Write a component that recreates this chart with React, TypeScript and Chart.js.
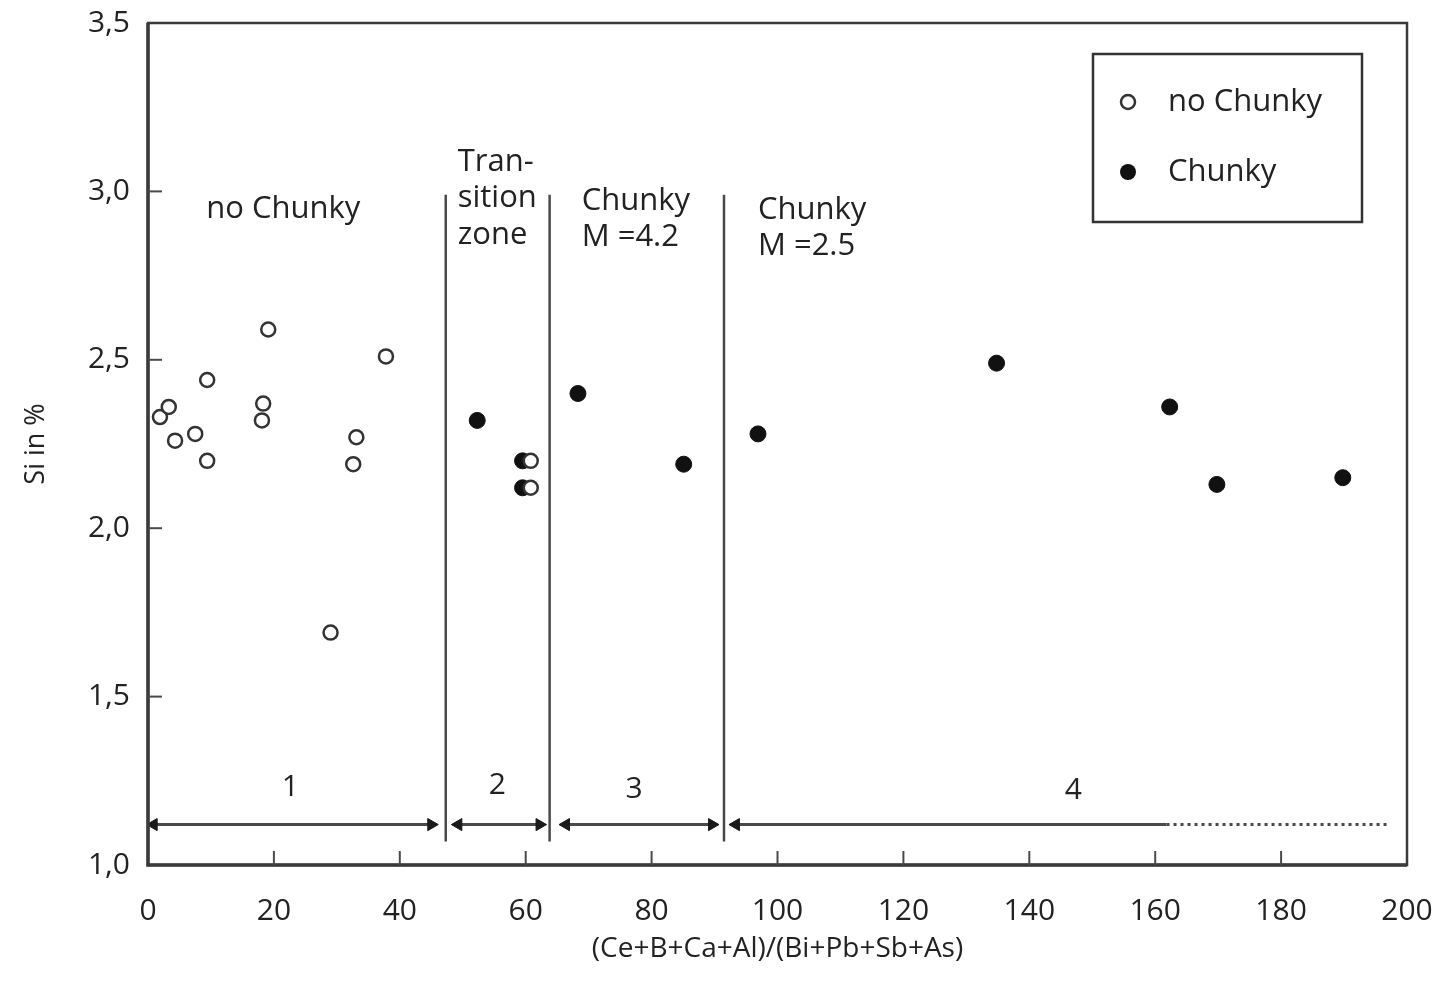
import { useEffect, useRef } from "react"
import { Chart, registerables } from "chart.js"

Chart.register(...registerables)

// values
const noChunkyX = [1.9, 3.3, 4.3, 7.5, 9.4, 9.4, 18.1, 18.3, 19.1, 29.0, 32.6, 33.1, 37.8, 60.8, 60.8]
const noChunkyY = [2.33, 2.36, 2.26, 2.28, 2.44, 2.2, 2.32, 2.37, 2.59, 1.69, 2.19, 2.27, 2.51, 2.2, 2.12]

const chunkyX = [52.3, 59.5, 59.5, 68.3, 85.1, 96.9, 134.8, 162.3, 169.8, 189.8]
const chunkyY = [2.32, 2.2, 2.12, 2.4, 2.19, 2.28, 2.49, 2.36, 2.13, 2.15]

const xTickValues = [0, 20, 40, 60, 80, 100, 120, 140, 160, 180, 200]
const yTickValues = [1.0, 1.5, 2.0, 2.5, 3.0, 3.5]

// zone borders (x) and their vertical extent (y)
const zoneBorders = [47.3, 63.8, 91.5]
const zoneBorderTop = 2.99
const zoneBorderBottom = 1.07

// arrows under the zones: [from, to]
const arrowY = 1.12
const zoneArrows = [
  [0.9, 45.0],
  [49.3, 62.2],
  [66.4, 89.6],
]
const zone4Solid = [93.4, 161.8]
const zone4Dotted = [161.8, 196.8]

const zoneNumbers = ["1", "2", "3", "4"]
const zoneNumberX = [22.6, 55.5, 77.2, 147.0]
const zoneNumberY = [1.23, 1.235, 1.223, 1.22]

const zoneTitles = [
  { lines: ["no Chunky"], x: 21.5, y: 2.948, align: "center" },
  { lines: ["Tran-", "sition", "zone"], x: 49.2, y: 3.087, align: "left" },
  { lines: ["Chunky", "M =4.2"], x: 68.9, y: 2.971, align: "left" },
  { lines: ["Chunky", "M =2.5"], x: 96.9, y: 2.945, align: "left" },
]

const legendLabels = ["no Chunky", "Chunky"]

const ink = "#222222"
const lineGray = "#4a4a4a"
const font = "'Open Sans', 'DejaVu Sans', sans-serif"

const toPoints = (xs: number[], ys: number[]) => xs.map((x, i) => ({ x, y: ys[i] }))

const overlayPlugin = {
  id: "overlay",
  afterDraw(chart: Chart) {
    const { ctx, chartArea } = chart
    const xs = chart.scales.x
    const ys = chart.scales.y
    ctx.save()

    // frame
    ctx.strokeStyle = "#3a3a3a"
    ctx.lineWidth = 2.5
    ctx.strokeRect(chartArea.left, chartArea.top, chartArea.right - chartArea.left, chartArea.bottom - chartArea.top)
    ctx.lineWidth = 3.5
    ctx.beginPath()
    ctx.moveTo(chartArea.left, chartArea.top)
    ctx.lineTo(chartArea.left, chartArea.bottom)
    ctx.lineTo(chartArea.right, chartArea.bottom)
    ctx.stroke()

    // inner tick marks
    ctx.lineWidth = 2
    ctx.strokeStyle = lineGray
    xTickValues.slice(1, -1).forEach((v) => {
      const px = xs.getPixelForValue(v)
      ctx.beginPath()
      ctx.moveTo(px, chartArea.bottom)
      ctx.lineTo(px, chartArea.bottom - 14)
      ctx.stroke()
    })
    yTickValues.slice(1, -1).forEach((v) => {
      const py = ys.getPixelForValue(v)
      ctx.beginPath()
      ctx.moveTo(chartArea.left, py)
      ctx.lineTo(chartArea.left + 14, py)
      ctx.stroke()
    })

    // zone titles
    ctx.fillStyle = ink
    ctx.font = `31px ${font}`
    ctx.textBaseline = "middle"
    zoneTitles.forEach((t) => {
      ctx.textAlign = t.align as CanvasTextAlign
      const px = xs.getPixelForValue(t.x)
      const py = ys.getPixelForValue(t.y)
      t.lines.forEach((line, i) => ctx.fillText(line, px, py + i * 36.5))
    })

    // zone numbers
    ctx.font = `30px ${font}`
    ctx.textAlign = "center"
    zoneNumbers.forEach((n, i) => {
      ctx.fillText(n, xs.getPixelForValue(zoneNumberX[i]), ys.getPixelForValue(zoneNumberY[i]))
    })

    // legend box
    const boxW = 269
    const boxH = 168
    const boxX = chartArea.right - 45 - boxW
    const boxY = chartArea.top + 31
    ctx.fillStyle = "#ffffff"
    ctx.fillRect(boxX, boxY, boxW, boxH)
    ctx.strokeStyle = "#333333"
    ctx.lineWidth = 2.5
    ctx.strokeRect(boxX, boxY, boxW, boxH)
    ctx.font = `31px ${font}`
    ctx.textAlign = "left"
    legendLabels.forEach((label, i) => {
      const cy = boxY + 48 + i * 70
      ctx.beginPath()
      ctx.arc(boxX + 35, cy, i === 0 ? 7 : 8, 0, Math.PI * 2)
      if (i === 0) {
        ctx.fillStyle = "#ffffff"
        ctx.fill()
        ctx.lineWidth = 2.5
        ctx.strokeStyle = "#333333"
        ctx.stroke()
      } else {
        ctx.fillStyle = "#111111"
        ctx.fill()
      }
      ctx.fillStyle = ink
      ctx.fillText(label, boxX + 75, cy)
    })

    ctx.restore()
  },
}

export default function App() {
  const chartRef = useRef<HTMLCanvasElement>(null)
  const chartInstance = useRef<Chart | null>(null)

  useEffect(() => {
    document.body.style.margin = "0"
    if (!chartRef.current) return

    if (chartInstance.current) {
      chartInstance.current.destroy()
    }

    const borderSets = zoneBorders.map((x) => ({
      label: "border",
      data: [
        { x, y: zoneBorderTop },
        { x, y: zoneBorderBottom },
      ],
      showLine: true,
      borderColor: lineGray,
      borderWidth: 2.5,
      pointRadius: 0,
    }))

    const arrowSets = zoneArrows.map(([a, b]) => ({
      label: "arrow",
      data: [
        { x: a, y: arrowY },
        { x: b, y: arrowY },
      ],
      showLine: true,
      borderColor: lineGray,
      borderWidth: 3,
      pointStyle: "triangle",
      pointRotation: [-90, 90],
      pointRadius: 7,
      pointBackgroundColor: "#1a1a1a",
      pointBorderColor: "#1a1a1a",
      pointBorderWidth: 1,
    }))

    const ctx = chartRef.current.getContext("2d")
    if (ctx) {
      chartInstance.current = new Chart(ctx, {
        type: "scatter",
        data: {
          datasets: [
            ...borderSets,
            ...arrowSets,
            {
              label: "arrow4",
              data: [
                { x: zone4Solid[0], y: arrowY },
                { x: zone4Solid[1], y: arrowY },
              ],
              showLine: true,
              borderColor: lineGray,
              borderWidth: 3,
              pointStyle: "triangle",
              pointRotation: [-90, 0],
              pointRadius: [7, 0],
              pointBackgroundColor: "#1a1a1a",
              pointBorderColor: "#1a1a1a",
              pointBorderWidth: 1,
            },
            {
              label: "arrow4dotted",
              data: [
                { x: zone4Dotted[0], y: arrowY },
                { x: zone4Dotted[1], y: arrowY },
              ],
              showLine: true,
              borderColor: lineGray,
              borderWidth: 3,
              borderDash: [3, 4],
              pointRadius: 0,
            },
            {
              label: legendLabels[0],
              data: toPoints(noChunkyX, noChunkyY),
              pointRadius: 7,
              pointBackgroundColor: "#ffffff",
              pointBorderColor: "#333333",
              pointBorderWidth: 2.5,
            },
            {
              label: legendLabels[1],
              data: toPoints(chunkyX, chunkyY),
              pointRadius: 8,
              pointBackgroundColor: "#111111",
              pointBorderColor: "#111111",
              pointBorderWidth: 1,
            },
          ] as any,
        },
        options: {
          animation: false,
          responsive: true,
          maintainAspectRatio: false,
          layout: { padding: { top: 23, right: 39, left: 0, bottom: 0 } },
          plugins: {
            legend: { display: false },
            tooltip: { enabled: false },
          },
          scales: {
            x: {
              type: "linear",
              min: 0,
              max: 200,
              afterBuildTicks: (scale) => {
                scale.ticks = xTickValues.map((value) => ({ value }))
              },
              afterFit: (scale: any) => {
                scale.height = 121
                // let the end labels overflow instead of shrinking the plot
                scale.paddingLeft = 0
                scale.paddingRight = 0
              },
              grid: { display: false, drawTicks: false },
              border: { display: false },
              ticks: {
                padding: 28,
                color: ink,
                font: { family: font, size: 30 },
                maxRotation: 0,
              },
              title: {
                display: true,
                text: "(Ce+B+Ca+Al)/(Bi+Pb+Sb+As)",
                color: ink,
                font: { family: font, size: 28 },
                padding: { top: 0, bottom: 20 },
              },
            },
            y: {
              type: "linear",
              min: 1,
              max: 3.5,
              afterBuildTicks: (scale) => {
                scale.ticks = yTickValues.map((value) => ({ value }))
              },
              afterFit: (scale: any) => {
                scale.width = 148
                scale.paddingTop = 0
                scale.paddingBottom = 0
              },
              grid: { display: false, drawTicks: false },
              border: { display: false },
              ticks: {
                padding: 18,
                color: ink,
                font: { family: font, size: 30 },
                callback: (value) => Number(value).toFixed(1).replace(".", ","),
              },
              title: {
                display: true,
                text: "Si in %",
                color: ink,
                font: { family: font, size: 27 },
                padding: { top: 20, bottom: 0 },
              },
            },
          },
        },
        plugins: [overlayPlugin],
      })
    }

    return () => {
      if (chartInstance.current) {
        chartInstance.current.destroy()
        chartInstance.current = null
      }
    }
  }, [])

  return (
    <div style={{ width: 1446, height: 986, background: "#ffffff" }}>
      <canvas ref={chartRef}></canvas>
    </div>
  )
}
